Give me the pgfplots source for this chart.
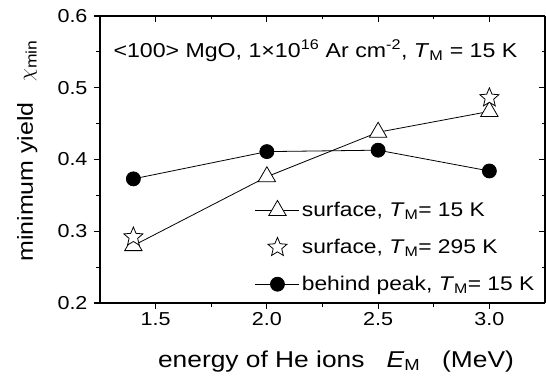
\documentclass[border=0pt]{standalone}
\usepackage{pgfplots}
\pgfplotsset{compat=1.18}
\usepackage{fontspec}
\setmainfont{Liberation Sans}[FakeStretch=1.15]
\pgfdeclareplotmark{ostar}{%
  \pgfpathmoveto{\pgfqpointpolar{90}{\pgfplotmarksize}}%
  \pgfpathlineto{\pgfqpointpolar{126}{0.45\pgfplotmarksize}}%
  \pgfpathlineto{\pgfqpointpolar{162}{\pgfplotmarksize}}%
  \pgfpathlineto{\pgfqpointpolar{198}{0.45\pgfplotmarksize}}%
  \pgfpathlineto{\pgfqpointpolar{234}{\pgfplotmarksize}}%
  \pgfpathlineto{\pgfqpointpolar{270}{0.45\pgfplotmarksize}}%
  \pgfpathlineto{\pgfqpointpolar{306}{\pgfplotmarksize}}%
  \pgfpathlineto{\pgfqpointpolar{342}{0.45\pgfplotmarksize}}%
  \pgfpathlineto{\pgfqpointpolar{18}{\pgfplotmarksize}}%
  \pgfpathlineto{\pgfqpointpolar{54}{0.45\pgfplotmarksize}}%
  \pgfpathclose
  \pgfusepathqfillstroke
}
\pgfplotstableread{
x y
1.4 0.280
2.0 0.376
2.5 0.438
3.0 0.467
}\surfcold
\pgfplotstableread{
x y
1.4 0.292
3.0 0.486
}\surfwarm
\pgfplotstableread{
x y
1.4 0.373
2.0 0.411
2.5 0.413
3.0 0.384
}\behind
\begin{document}
\begin{tikzpicture}
\pgfplotsset{
  common/.style={
    scale only axis, width=445bp, height=287bp,
    xmin=1.25, xmax=3.25, ymin=0.2, ymax=0.6,
    xtick={1.5,2.0,2.5,3.0}, ytick={0.2,0.3,0.4,0.5,0.6},
    minor x tick num=1, minor y tick num=1,
    axis line style={-, line width=1.1bp},
    every tick/.style={black, line width=1.1bp},
    major tick length=6bp, minor tick length=3.5bp,
  }
}
\begin{axis}[common,
  axis x line*=bottom, axis y line*=left,
  tick align=outside,
  /pgf/number format/assume math mode=true,
  xticklabel style={/pgf/number format/.cd,fixed,fixed zerofill,precision=1},
  yticklabel style={xshift=-3bp,/pgf/number format/.cd,fixed,fixed zerofill,precision=1},
  tick label style={font=\fontsize{18.8}{22}\selectfont},
  xlabel={energy of He ions\ \ \ \textit{E}\textsubscript{M}\ \ \ (MeV)},
  ylabel={minimum yield\ \ \ $\chi$\textsubscript{min}},
  xlabel style={font=\fontsize{23}{27}\selectfont, at={(axis description cs:0.130,-0.223)},anchor=base west, inner sep=0pt},
  ylabel style={font=\fontsize{21.8}{26}\selectfont, at={(axis description cs:-0.151,0.143)},anchor=base west, inner sep=0pt},
  legend style={draw=none, fill=none, inner sep=0pt,
    at={(axis description cs:0.348,0.358)}, anchor=north west,
    font=\fontsize{19.9}{23}\selectfont, row sep=17bp,
    /tikz/every even column/.append style={column sep=3bp}},
  legend cell align=left,
  legend image code/.code={\draw[mark repeat=2,mark phase=2,#1] plot coordinates {(0bp,0bp) (22bp,0bp) (44bp,0bp)};},
]
\addplot[black, line width=0.8bp, mark=triangle*, mark size=10bp, mark options={fill=white, line width=0.8bp, solid}] table[x=x,y=y] {\surfcold};
\addlegendentry{surface, \textit{T}\textsubscript{M}= 15 K}
\addplot[black, only marks, mark=ostar, mark size=10bp, mark options={fill=white, line width=0.8bp}] table[x=x,y=y] {\surfwarm};
\addlegendentry{surface, \textit{T}\textsubscript{M}= 295 K}
\addplot[black, line width=0.8bp, mark=*, mark size=7bp, mark options={fill=black}] table[x=x,y=y] {\behind};
\addlegendentry{behind peak, \textit{T}\textsubscript{M}= 15 K}
\node[anchor=base west, font=\fontsize{20.2}{23}\selectfont, inner sep=0pt] at (axis description cs:0.03,0.857) {<100> MgO, 1×10\textsuperscript{16} Ar cm\textsuperscript{-2}, \textit{T}\textsubscript{M} = 15 K};
\coordinate (ll) at (rel axis cs:0,0);
\coordinate (ur) at (rel axis cs:1,1);
\end{axis}
\begin{axis}[common,
  axis x line*=top, axis y line*=right,
  tick align=inside,
  xticklabels={}, yticklabels={},
]
\end{axis}
\pgfresetboundingbox
\path[use as bounding box] ([shift={(-100bp,-80bp)}]ll) rectangle ([shift={(1bp,16bp)}]ur);
\end{tikzpicture}
\end{document}
